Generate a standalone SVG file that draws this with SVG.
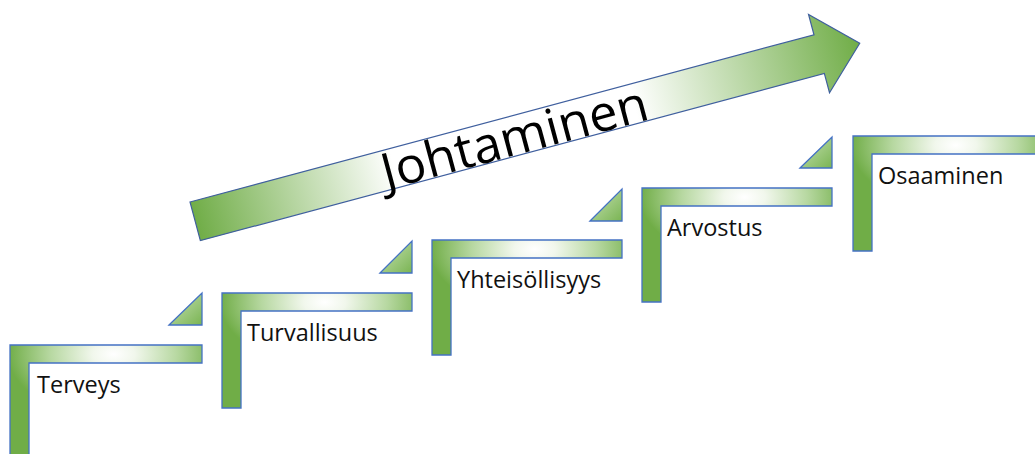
<svg xmlns="http://www.w3.org/2000/svg" width="1035" height="454" viewBox="0 0 1035 454">
  <defs>
    <!-- light centre on the tread of each step, fading to green -->
    <radialGradient id="stepFill" cx="0.54" cy="0.08" r="0.55" fx="0.54" fy="0.08">
      <stop offset="0" stop-color="#ffffff"/>
      <stop offset="0.2" stop-color="#f1f7ec"/>
      <stop offset="0.6" stop-color="#b7d8a1"/>
      <stop offset="1" stop-color="#70ad47"/>
    </radialGradient>
    <linearGradient id="triFill" x1="0" y1="0" x2="1" y2="1">
      <stop offset="0" stop-color="#c9e3b7"/>
      <stop offset="1" stop-color="#7ab453"/>
    </linearGradient>
    <linearGradient id="arrowFill" gradientUnits="userSpaceOnUse" x1="0" y1="0" x2="688" y2="0">
      <stop offset="0" stop-color="#70ad47"/>
      <stop offset="0.3" stop-color="#ffffff"/>
      <stop offset="0.66" stop-color="#ffffff"/>
      <stop offset="1" stop-color="#70ad47"/>
    </linearGradient>
  </defs>
  <style>
    .step { fill: url(#stepFill); stroke: #4472c4; stroke-width: 1.3; }
    .tri { fill: url(#triFill); stroke: #4472c4; stroke-width: 1.3; stroke-linejoin: miter; }
    .arrow { fill: url(#arrowFill); stroke: #3f5f9e; stroke-width: 1.2; }
    .label { font-family: "Open Sans", "Liberation Sans", sans-serif; font-size: 23.5px; fill: #111; }
    .title { font-family: "Open Sans", "Liberation Sans", sans-serif; font-size: 50px; fill: #000; }
  </style>

  <rect width="1035" height="454" fill="#ffffff"/>

  <!-- rising arrow with its title -->
  <g id="johtaminen" transform="translate(190,202) rotate(-15)">
    <path class="arrow" d="M0,0 H646 V-21 L688,20 L646,60 V40 H0 Z"/>
    <text class="title" x="193" y="39" textLength="274" lengthAdjust="spacingAndGlyphs">Johtaminen</text>
  </g>

  <!-- stair steps: L-shaped tread + riser, small triangle above each -->
  <g id="terveys">
    <path class="step" d="M10,345 H202 V363 H29 V460 H10 Z"/>
    <path class="tri" d="M169,325 L202,293 V325 Z"/>
    <text class="label" x="37" y="393">Terveys</text>
  </g>

  <g id="turvallisuus">
    <path class="step" d="M222,293 H412 V311 H241 V408 H222 Z"/>
    <path class="tri" d="M380,273 L412,241 V273 Z"/>
    <text class="label" x="247" y="341">Turvallisuus</text>
  </g>

  <g id="yhteisollisyys">
    <path class="step" d="M432,240 H622 V258 H451 V355 H432 Z"/>
    <path class="tri" d="M590,221 L622,189 V221 Z"/>
    <text class="label" x="457" y="288">Yhteisöllisyys</text>
  </g>

  <g id="arvostus">
    <path class="step" d="M642,188 H832 V206 H661 V302 H642 Z"/>
    <path class="tri" d="M800,168 L832,137 V168 Z"/>
    <text class="label" x="667" y="236">Arvostus</text>
  </g>

  <g id="osaaminen">
    <path class="step" d="M853,136 H1043 V154 H872 V251 H853 Z"/>
    <text class="label" x="878" y="184">Osaaminen</text>
  </g>
</svg>
